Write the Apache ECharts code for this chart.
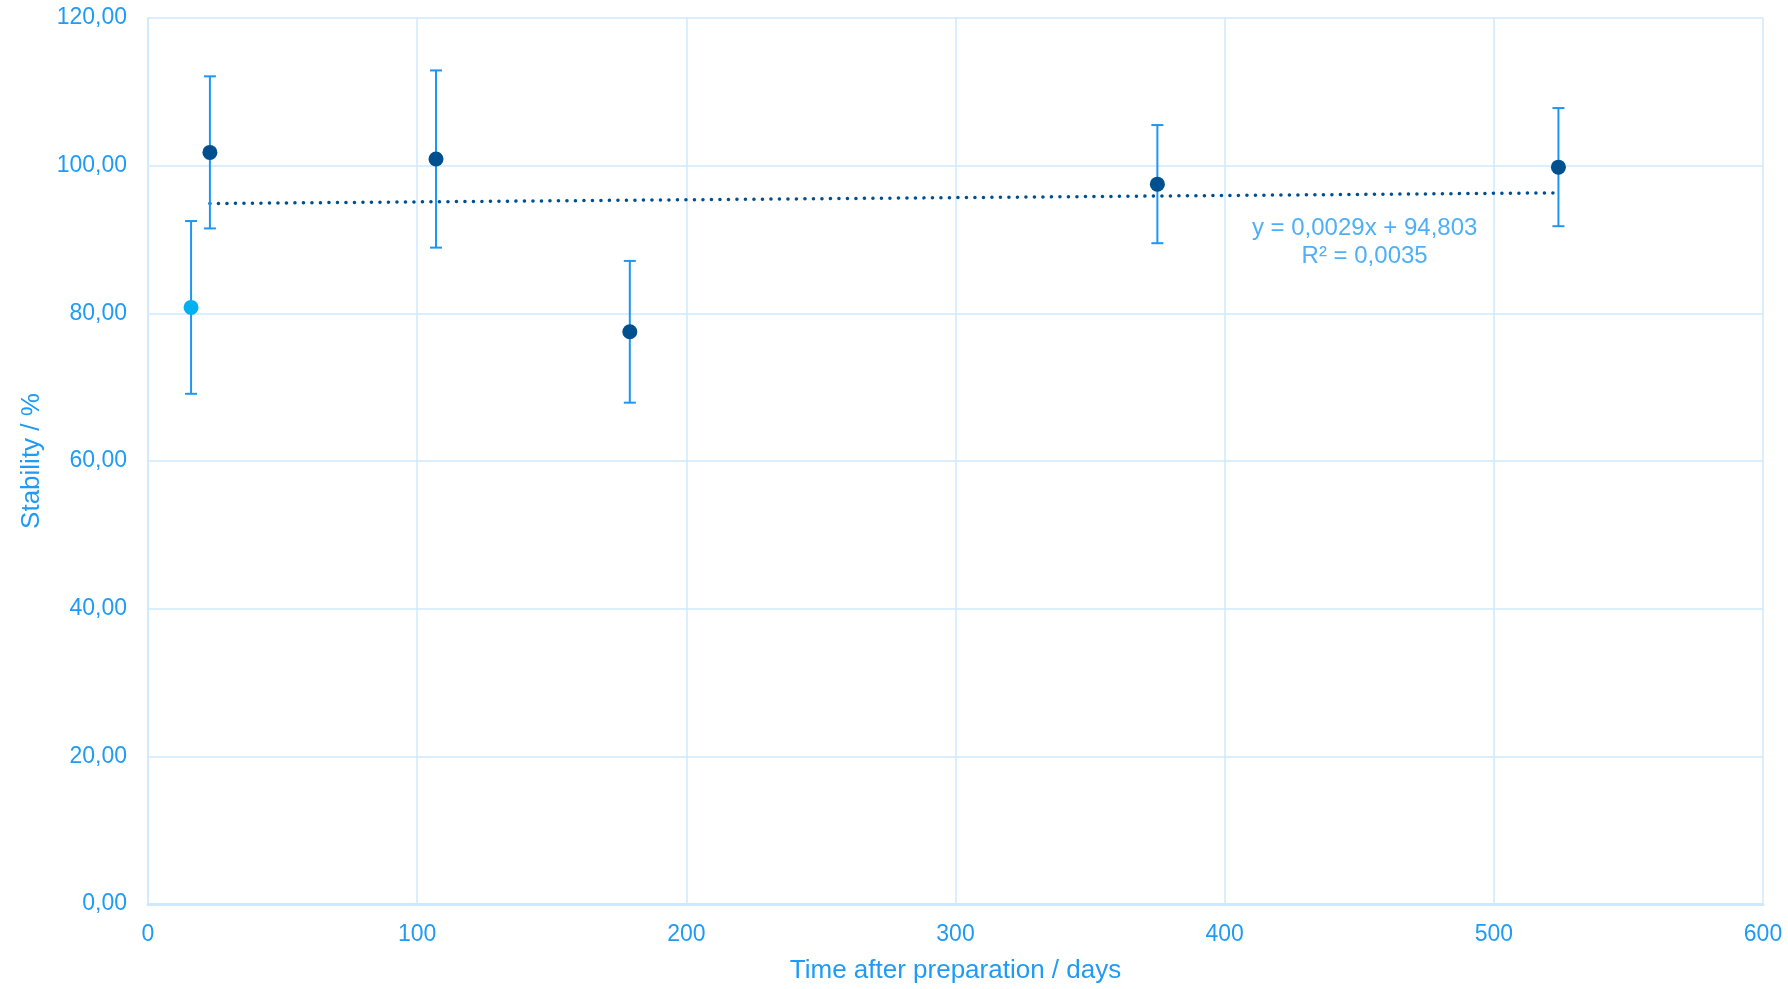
<!DOCTYPE html>
<html>
<head>
<meta charset="utf-8">
<script src="https://cdn.jsdelivr.net/npm/echarts@6/dist/echarts.min.js"></script>
<style>
html,body{margin:0;padding:0;background:#fff;}
#c{width:1788px;height:989px;}
</style>
</head>
<body>
<div id="c"></div>
<script>
// Data
var firstDays = [16];
var firstValues = [80.8];
var firstErr = [11.7];

var mainDays = [23, 107, 179, 375, 524];
var mainValues = [101.8, 100.9, 77.5, 97.5, 99.8];
var mainErr = [10.3, 12.0, 9.6, 8.0, 8.0];

var trendDays = [23, 524];
var trendValues = [94.87, 96.32];

var xTicks = [0, 100, 200, 300, 400, 500, 600];
var yTicks = [0, 20, 40, 60, 80, 100, 120];

var eqLines = ['y = 0,0029x + 94,803', 'R\u00b2 = 0,0035'];
var eqPos = [452, 89.6];

var textColor = '#1f9bf5';
var errColor = '#1e96f5';
var darkColor = '#00508f';
var lightColor = '#00b0f0';
var gridColor = '#cfe8fc';
var fontFam = 'Liberation Sans, Arial, sans-serif';

function pairs(xs, ys) { return xs.map(function (x, i) { return [x, ys[i]]; }); }
function errData(xs, ys, es) { return xs.map(function (x, i) { return [x, ys[i] - es[i], ys[i] + es[i]]; }); }

function renderErr(params, api) {
  var x = api.value(0);
  var lo = api.coord([x, api.value(1)]);
  var hi = api.coord([x, api.value(2)]);
  var hw = 6;
  var st = { stroke: errColor, lineWidth: 2 };
  return {
    type: 'group',
    children: [
      { type: 'line', shape: { x1: lo[0], y1: lo[1], x2: hi[0], y2: hi[1] }, style: st },
      { type: 'line', shape: { x1: lo[0] - hw, y1: lo[1], x2: lo[0] + hw, y2: lo[1] }, style: st },
      { type: 'line', shape: { x1: hi[0] - hw, y1: hi[1], x2: hi[0] + hw, y2: hi[1] }, style: st }
    ]
  };
}

var chart = echarts.init(document.getElementById('c'), null, { renderer: 'canvas' });
chart.setOption({
  animation: false,
  backgroundColor: '#ffffff',
  grid: { left: 148, right: 25, top: 18, bottom: 85, containLabel: false },
  xAxis: {
    type: 'value',
    min: xTicks[0], max: xTicks[xTicks.length - 1], interval: 100,
    name: 'Time after preparation / days',
    nameLocation: 'middle', nameGap: 54,
    nameTextStyle: { color: textColor, fontSize: 26, fontFamily: fontFam },
    axisLine: { show: true, lineStyle: { color: gridColor, width: 3 } },
    axisTick: { show: false },
    axisLabel: { color: textColor, fontSize: 23, margin: 19, fontFamily: fontFam },
    splitLine: { show: true, lineStyle: { color: gridColor, width: 1.5 } }
  },
  yAxis: {
    type: 'value',
    min: yTicks[0], max: yTicks[yTicks.length - 1], interval: 20,
    name: 'Stability / %',
    nameLocation: 'middle', nameGap: 103,
    nameTextStyle: { color: textColor, fontSize: 26, fontFamily: fontFam },
    axisLine: { show: true, lineStyle: { color: gridColor, width: 1.5 } },
    axisTick: { show: false },
    axisLabel: {
      color: textColor, fontSize: 23, margin: 21, fontFamily: fontFam,
      formatter: function (v) { return v.toFixed(2).replace('.', ','); }
    },
    splitLine: { show: true, lineStyle: { color: gridColor, width: 1.5 } }
  },
  series: [
    {
      type: 'line', data: pairs(trendDays, trendValues), symbol: 'none', z: 2,
      lineStyle: { color: darkColor, width: 3.5, type: [0.1, 8.4], cap: 'round' }
    },
    { type: 'custom', renderItem: renderErr, data: errData(firstDays, firstValues, firstErr), z: 3, encode: { x: 0, y: [1, 2] } },
    { type: 'custom', renderItem: renderErr, data: errData(mainDays, mainValues, mainErr), z: 3, encode: { x: 0, y: [1, 2] } },
    { type: 'scatter', data: pairs(firstDays, firstValues), symbolSize: 15, itemStyle: { color: lightColor, opacity: 1 }, z: 4 },
    { type: 'scatter', data: pairs(mainDays, mainValues), symbolSize: 15, itemStyle: { color: darkColor, opacity: 1 }, z: 4 },
    {
      type: 'scatter', data: [eqPos], symbolSize: 0, z: 5, silent: true,
      label: {
        show: true, position: 'inside', formatter: eqLines.join('\n'),
        color: textColor, fontSize: 24, lineHeight: 28, align: 'center',
        fontFamily: fontFam
      }
    }
  ]
});
</script>
</body>
</html>
